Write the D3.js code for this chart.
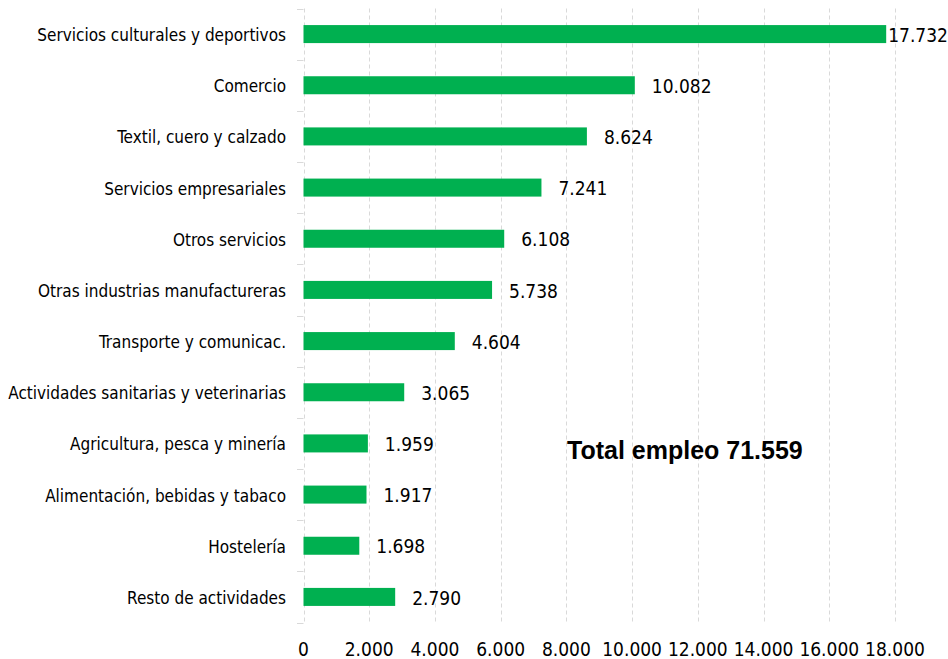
<!DOCTYPE html>
<html>
<head>
<meta charset="utf-8">
<script src="https://cdn.jsdelivr.net/npm/d3@7"></script>
<style>
  body { margin: 0; background: #fff; }
  text { font-family: "Liberation Sans Narrow", "DejaVu Sans Condensed", "Liberation Sans", sans-serif; fill: #000; }
</style>
</head>
<body>
<div id="chart"></div>
<script>
var categories = [
  "Servicios culturales y deportivos",
  "Comercio",
  "Textil, cuero y calzado",
  "Servicios empresariales",
  "Otros servicios",
  "Otras industrias manufactureras",
  "Transporte y comunicac.",
  "Actividades sanitarias y veterinarias",
  "Agricultura, pesca y minería",
  "Alimentación, bebidas y tabaco",
  "Hostelería",
  "Resto de actividades "
];
var values = [17732, 10082, 8624, 7241, 6108, 5738, 4604, 3065, 1959, 1917, 1698, 2790];
var tickValues = [0, 2000, 4000, 6000, 8000, 10000, 12000, 14000, 16000, 18000];
var totalLabel = "Total empleo 71.559";

var width = 948, height = 659;
var svg = d3.select("#chart")
    .append("svg")
    .attr("width", width)
    .attr("height", height);

var locale = d3.formatLocale({decimal: ",", thousands: ".", grouping: [3], currency: ["", "€"]});
var format = locale.format(",d");

var x = d3.scaleLinear().domain([0, 18000]).range([303.5, 895]);
var y = d3.scaleBand().domain(categories).range([8.5, 622.5]).paddingInner(0.648).paddingOuter(0.324);

// vertical dashed gridlines
svg.selectAll(".grid")
    .data(tickValues)
  .enter().append("line")
    .attr("x1", function(d) { return Math.round(x(d)) + 0.5; })
    .attr("x2", function(d) { return Math.round(x(d)) + 0.5; })
    .attr("y1", 8.5)
    .attr("y2", 622.5)
    .attr("stroke", "#d9d9d9")
    .attr("stroke-dasharray", "4,3");

// category separator ticks
var step = y.step();
var bounds = d3.range(categories.length + 1).map(function(i) { return 8.5 + i * step; });
svg.selectAll(".sep")
    .data(bounds)
  .enter().append("line")
    .attr("x1", 297)
    .attr("x2", 303.5)
    .attr("y1", function(d) { return Math.round(d) + 0.5; })
    .attr("y2", function(d) { return Math.round(d) + 0.5; })
    .attr("stroke", "#d9d9d9");

// bars
svg.selectAll(".bar")
    .data(values)
  .enter().append("rect")
    .attr("x", x(0))
    .attr("y", function(d, i) { return y(categories[i]); })
    .attr("width", function(d) { return x(d) - x(0); })
    .attr("height", y.bandwidth())
    .attr("fill", "#00b050");

// category labels
svg.selectAll(".cat")
    .data(categories)
  .enter().append("text")
    .attr("x", 286)
    .attr("y", function(d) { return y(d) + y.bandwidth() / 2 + 1; })
    .attr("dy", "0.35em")
    .attr("text-anchor", "end")
    .attr("font-size", 17)
    .text(function(d) { return d; });

// value labels
svg.selectAll(".val")
    .data(values)
  .enter().append("text")
    .attr("y", function(d, i) { return y(categories[i]) + y.bandwidth() / 2 + 1; })
    .attr("dy", "0.35em")
    .attr("font-size", 19)
    .text(function(d) { return format(d); })
    .each(function(d) {
      var t = d3.select(this);
      var w = this.getComputedTextLength();
      var px = x(d) + 17;
      if (px + w > width - 2) px = x(d) + 2;
      t.attr("x", px);
    });

// x axis labels
svg.selectAll(".tick")
    .data(tickValues)
  .enter().append("text")
    .attr("x", function(d) { return x(d); })
    .attr("y", 656)
    .attr("text-anchor", "middle")
    .attr("font-size", 19)
    .text(function(d) { return format(d); });

// total
svg.append("text")
    .attr("x", 567)
    .attr("y", 459)
    .attr("font-size", 25)
    .attr("font-weight", "bold")
    .style("font-family", "'Liberation Sans', Arial, sans-serif")
    .text(totalLabel);
</script>
</body>
</html>
